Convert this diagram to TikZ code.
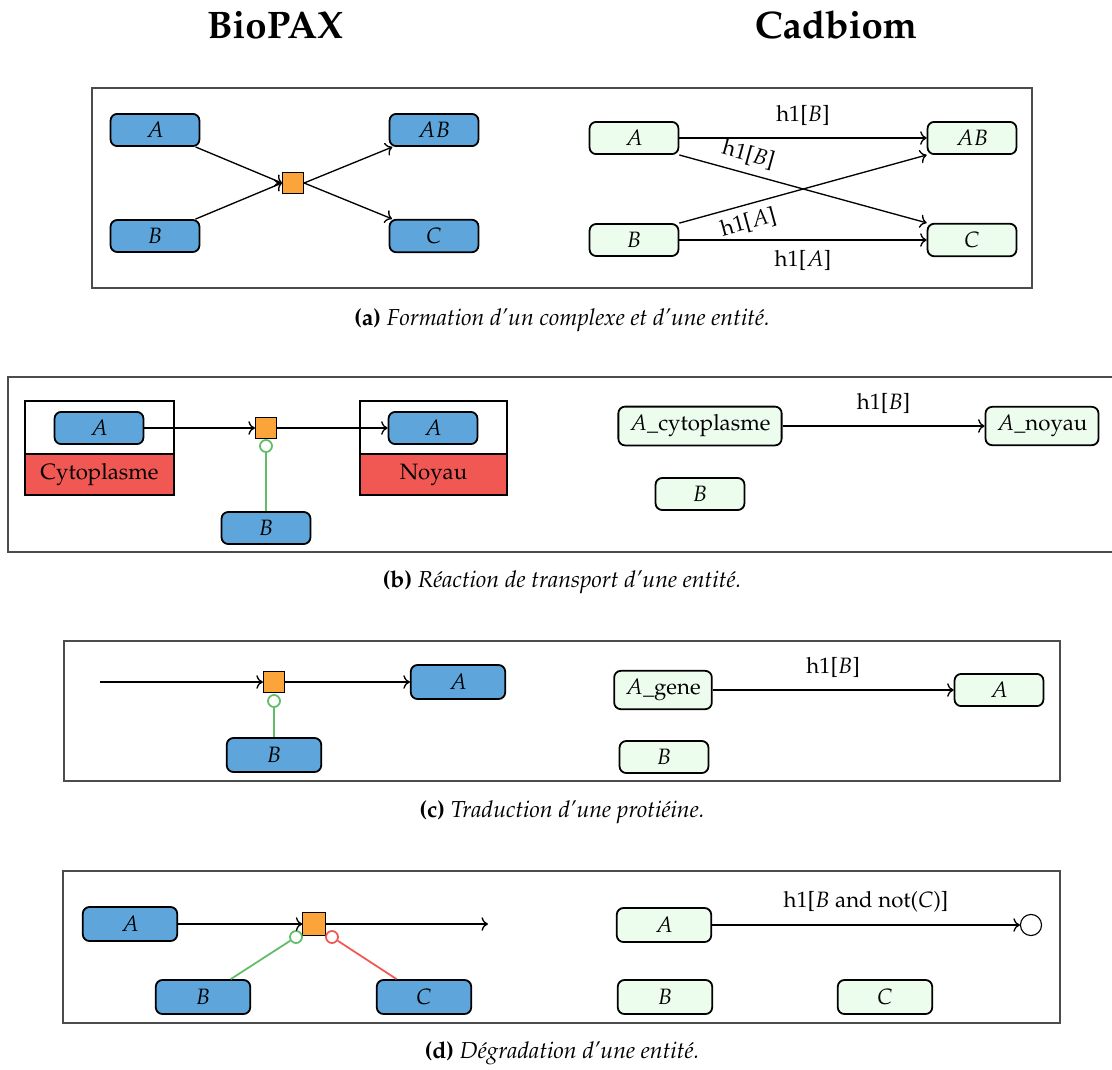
\documentclass[tikz,border=0pt]{standalone}
\usepackage[T1]{fontenc}
\usepackage{mathpazo}
\usepackage{tikz}
\usetikzlibrary{arrows.meta, positioning, calc}

\definecolor{bleu}{HTML}{5DA5DA}
\definecolor{orangeproc}{HTML}{FAA43A}
\definecolor{vertclair}{HTML}{EDFDED}
\definecolor{vertlien}{HTML}{60BD68}
\definecolor{rougelien}{HTML}{F15854}

\tikzset{
  bionode/.style={draw, line width=0.8pt, rounded corners=3pt, fill=bleu,
                  minimum width=40pt, minimum height=14.4pt,
                  inner xsep=5pt, inner ysep=3.7pt},
  cadnode/.style={bionode, fill=vertclair},
  grand/.style={minimum width=42.5pt, minimum height=15.3pt},
  process/.style={draw, line width=0.5pt, fill=orangeproc, minimum size=9.5pt, inner sep=0pt},
  catalyse/.style={circle, draw=vertlien, line width=0.8pt, fill=white,
                   minimum size=5.4pt, inner sep=0pt},
  inhibe/.style={catalyse, draw=rougelien},
  puits/.style={circle, draw, line width=0.5pt, minimum size=9.5pt, inner sep=0pt},
  lien/.style={->, line width=0.6pt},
  lienvert/.style={draw=vertlien, line width=0.8pt},
  lienrouge/.style={draw=rougelien, line width=0.8pt},
  cadre/.style={draw=black!70, line width=0.5pt},
  compart/.style={draw, line width=0.7pt},
  titre/.style={font=\LARGE\bfseries},
  legende/.style={font=\fontsize{10.4pt}{12.5pt}\selectfont},
}

\begin{document}
\begin{tikzpicture}[x=0.45pt, y=-0.45pt]
\useasboundingbox (0,0) rectangle (1112,1070);

\node[titre] (tbio) at (275,25) {BioPAX};
\node[titre] (tcad) at (836,25) {Cadbiom};

% (a) complexe
\draw[cadre] (92,88) rectangle (1032,288);
\node[bionode] (aA)  at (155,130) {$A$};
\node[bionode] (aB)  at (155,236) {$B$};
\node[bionode] (aAB) at (434,130) {$AB$};
\node[bionode] (aC)  at (434,236) {$C$};
\node[process] (aP)  at (293,183) {};
\draw[lien] (aA) -- (aP.west);
\draw[lien] (aB) -- (aP.west);
\draw[lien] (aP.east) -- (aAB);
\draw[lien] (aP.east) -- (aC);

\node[cadnode] (acA)  at (634,138) {$A$};
\node[cadnode] (acB)  at (634,240) {$B$};
\node[cadnode] (acAB) at (972,138) {$AB$};
\node[cadnode] (acC)  at (972,240) {$C$};
\draw[lien] (acA) -- node[above=2pt] {h1[$B$]} (acAB);
\draw[lien] (acA.south east) -- node[pos=0.26, sloped, above] {h1[$B$]} (acC.north west);
\draw[lien] (acB.north east) -- node[pos=0.26, sloped, below] {h1[$A$]} (acAB.south west);
\draw[lien] (acB) -- node[below=1pt] {h1[$A$]} (acC);

\node[legende] (capa) at (562,320) {\textbf{(a)} \textit{Formation d'un complexe et d'une entit\'e.}};

% (b) transport
\draw[cadre] (1114,377) -- (8,377) -- (8,552) -- (1114,552);
\draw[compart] (25,401) rectangle (174,495);
\draw[compart, fill=rougelien] (25,454) rectangle (174,495);
\node (bcyto) at (99.5,474.5) {Cytoplasme};
\draw[compart] (360,401) rectangle (507,495);
\draw[compart, fill=rougelien] (360,454) rectangle (507,495);
\node (bnoy) at (433.5,474.5) {Noyau};

\node[bionode] (bA1) at (99,428) {$A$};
\node[process] (bP) at (266,428) {};
\node[catalyse] (bcat) at (266,446) {};
\node[bionode] (bB) at (266,528) {$B$};
\node[bionode] (bA2) at (433,428) {$A$};
\draw[lien] (bA1) -- (bP);
\draw[lien] (bP) -- (bA2);
\draw[lienvert] (bB) -- (bcat);

\node[cadnode] (bcAc) at (700,426) {$A$\_cytoplasme};
\node[cadnode] (bcAn) at (1042,426) {$A$\_noyau};
\node[cadnode] (bcB) at (700,494) {$B$};
\draw[lien] (bcAc) -- node[above=2pt] {h1[$B$]} (bcAn);

\node[legende] (capb) at (562,582) {\textbf{(b)} \textit{R\'eaction de transport d'une entit\'e.}};

% (c) traduction
\draw[cadre] (64,641) rectangle (1060,781);
\coordinate (cdeb) at (100,682);
\node[process] (cP) at (274,682) {};
\node[catalyse] (ccat) at (274,701) {};
\node[bionode, grand] (cB) at (274,755) {$B$};
\node[bionode, grand] (cA) at (458,682) {$A$};
\draw[lien] (cdeb) -- (cP);
\draw[lien] (cP) -- (cA);
\draw[lienvert] (cB) -- (ccat);

\node[cadnode] (ccAg) at (663,690) {$A$\_gene};
\node[cadnode] (ccA) at (999,690) {$A$};
\node[cadnode] (ccB) at (664,757) {$B$};
\draw[lien] (ccAg) -- node[above=2pt] {h1[$B$]} (ccA);

\node[legende] (capc) at (562,812) {\textbf{(c)} \textit{Traduction d'une proti\'eine.}};

% (d) degradation
\draw[cadre] (63,871) rectangle (1060,1023);
\node[bionode, grand] (dA) at (130,924) {$A$};
\node[process, minimum size=10pt] (dP) at (314,924) {};
\coordinate (dfin) at (488,924);
\node[catalyse] (dcat) at (296,937) {};
\node[inhibe] (dinh) at (332,937) {};
\node[bionode, grand] (dB) at (203,997) {$B$};
\node[bionode, grand] (dC) at (424,997) {$C$};
\draw[lien] (dA) -- (dP);
\draw[lien] (dP) -- (dfin);
\draw[lienvert] (dB) -- (dcat);
\draw[lienrouge] (dC) -- (dinh);

\node[cadnode, grand] (dcA) at (664,925) {$A$};
\node[puits] (dpuits) at (1031,925) {};
\node[cadnode, grand] (dcB) at (665,997) {$B$};
\node[cadnode, grand] (dcC) at (885,997) {$C$};
\draw[lien] (dcA) -- node[above=2pt] {h1[$B$ and not($C$)]} (dpuits);

\node[legende] (capd) at (562,1053) {\textbf{(d)} \textit{D\'egradation d'une entit\'e.}};
\end{tikzpicture}
\end{document}
